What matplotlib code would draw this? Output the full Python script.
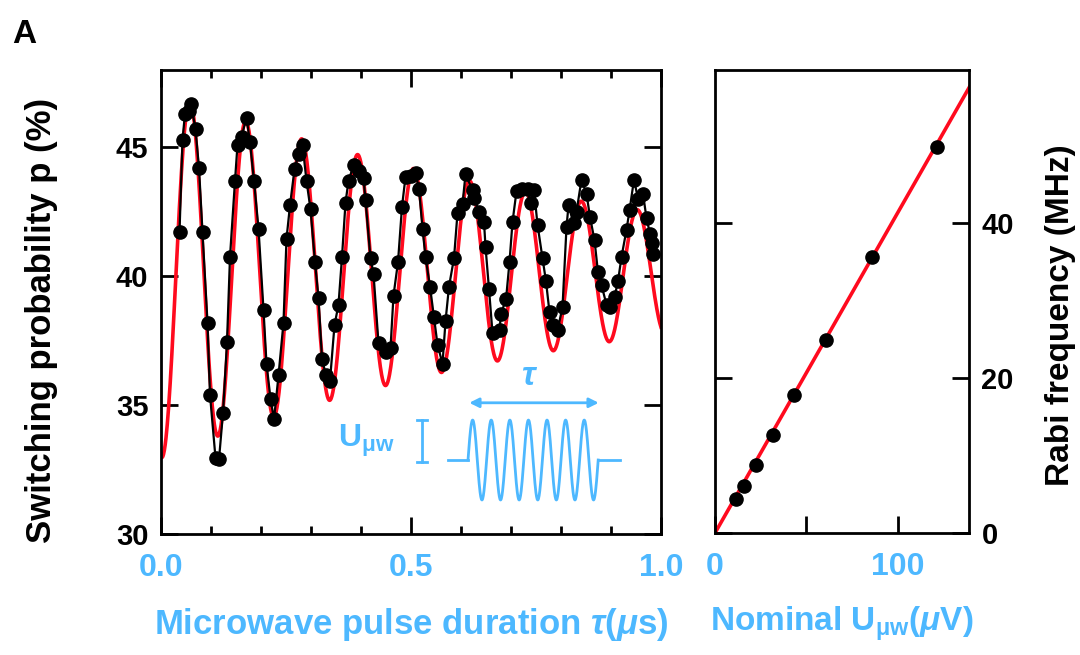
import numpy as np
import matplotlib.pyplot as plt

plt.rcParams['font.family'] = ['Liberation Sans', 'DejaVu Sans']
plt.rcParams['font.weight'] = 'bold'
plt.rcParams['axes.labelweight'] = 'bold'
plt.rcParams['mathtext.fontset'] = 'custom'
plt.rcParams['mathtext.rm'] = 'Liberation Sans:bold'
plt.rcParams['mathtext.it'] = 'Liberation Sans:bold:italic'
plt.rcParams['mathtext.bf'] = 'Liberation Sans:bold'

CYAN = "#4db8ff"
RED = "#ff0a1e"

# --- Rabi oscillations ---
tau_us = [0.037, 0.043, 0.048, 0.055, 0.060, 0.069, 0.076, 0.083,
          0.093, 0.098, 0.109, 0.116, 0.124, 0.132, 0.138,
          0.148, 0.153, 0.161, 0.171, 0.178, 0.186, 0.195,
          0.205, 0.211, 0.219, 0.226, 0.235, 0.245, 0.251, 0.258,
          0.267, 0.275, 0.283, 0.291, 0.299, 0.308, 0.315, 0.322,
          0.330, 0.338, 0.347, 0.355, 0.362, 0.369, 0.375, 0.385,
          0.395, 0.405, 0.409, 0.419, 0.425, 0.435, 0.449, 0.459,
          0.465, 0.474, 0.482, 0.489, 0.499, 0.509, 0.516, 0.523,
          0.529, 0.538, 0.546, 0.553, 0.563, 0.569, 0.576, 0.586,
          0.593, 0.603, 0.609, 0.623, 0.626, 0.636, 0.646, 0.649,
          0.656, 0.663, 0.677, 0.680, 0.690, 0.697, 0.703, 0.711,
          0.721, 0.733, 0.739, 0.746, 0.753, 0.763, 0.770, 0.777,
          0.783, 0.793, 0.803, 0.811, 0.815, 0.825, 0.831, 0.841,
          0.851, 0.858, 0.867, 0.874, 0.881, 0.891, 0.897, 0.907,
          0.914, 0.921, 0.931, 0.937, 0.946, 0.954, 0.964, 0.971,
          0.978, 0.981, 0.983]
p_pct = [41.7, 45.3, 46.3, 46.4, 46.7, 45.7, 44.2, 41.7,
         38.2, 35.4, 32.95, 32.9, 34.7, 37.45, 40.75,
         43.7, 45.1, 45.4, 46.15, 45.2, 43.7, 41.85,
         38.7, 36.6, 35.25, 34.45, 36.15, 38.2, 41.45, 42.75,
         44.15, 44.75, 45.1, 43.7, 42.6, 40.55, 39.15, 36.8,
         36.15, 35.95, 38.1, 38.9, 40.75, 42.85, 43.7, 44.3,
         44.1, 43.8, 42.95, 40.7, 40.1, 37.4, 37.05, 37.2,
         39.25, 40.55, 42.7, 43.85, 43.9, 44.0, 43.4, 41.85,
         40.75, 39.6, 38.4, 37.35, 36.6, 38.25, 39.6, 40.7,
         42.45, 42.8, 43.95, 43.35, 43.05, 42.5, 42.1, 41.15,
         39.5, 37.8, 37.9, 38.55, 39.1, 40.55, 42.1, 43.3,
         43.4, 43.4, 42.85, 43.35, 42.0, 40.7, 39.8, 38.6,
         38.1, 37.9, 38.8, 41.9, 42.75, 42.05, 42.5, 43.75,
         43.2, 42.3, 41.4, 40.15, 39.65, 38.9, 38.8, 39.2,
         39.8, 40.75, 41.8, 42.55, 43.75, 43.0, 43.2, 42.25,
         41.65, 41.3, 40.85]

# fit parameters of the red curve
FIT_P0 = 40.1       # %
FIT_AMP = 7.15      # %
FIT_T2 = 0.90       # us
FIT_FREQ = 8.94     # MHz
FIT_T0 = 0.002      # us

# --- Rabi frequency vs nominal amplitude ---
u_nominal = [11.3, 15.7, 22.2, 31.5, 43.4, 61.0, 86.0, 121.5]
f_rabi = [4.4, 6.1, 8.8, 12.6, 17.8, 24.9, 35.6, 49.8]
RABI_SLOPE = 0.413  # MHz / uV

fig = plt.figure(figsize=(10.8, 6.55), dpi=100)
ax1 = fig.add_axes([161 / 1080, 1 - 534 / 655, 500 / 1080, 464 / 655])
ax2 = fig.add_axes([715 / 1080, 1 - 533 / 655, 254 / 1080, 463 / 655])

# left panel
tt = np.linspace(0, 1.0, 1200)
fit = FIT_P0 - FIT_AMP * np.exp(-tt / FIT_T2) * np.cos(2 * np.pi * FIT_FREQ * (tt - FIT_T0))
ax1.plot(tt, fit, color=RED, lw=2.6, zorder=2)
ax1.plot(tau_us, p_pct, "-o", color="black", lw=1.6, ms=9.5, zorder=3)

ax1.set_xlim(0, 1.0)
ax1.set_ylim(30, 48)
ax1.set_xticks([0, 0.5, 1.0])
ax1.set_xticklabels(["0.0", "0.5", "1.0"])
ax1.set_xticks(np.arange(0.1, 1.0, 0.1), minor=True)
ax1.set_yticks([30, 35, 40, 45])
ax1.tick_params(axis="both", which="major", direction="in", length=12, width=2,
                top=True, right=True, labelsize=21, pad=9)
ax1.tick_params(axis="x", which="minor", direction="in", length=6, width=2,
                top=True, bottom=True)
ax1.tick_params(axis="x", labelcolor=CYAN, labelsize=23, pad=14)
ax1.set_xlabel(r"Microwave pulse duration $\tau$($\mu$s)", color=CYAN, fontsize=25)
ax1.xaxis.set_label_coords(0.5, -0.155)
ax1.set_ylabel("Switching probability p (%)", fontsize=25)
ax1.yaxis.set_label_coords(-0.205, 0.46)

# inset: pulse schematic
BASE_P = 32.87
PULSE_AMP = 1.55
PULSE_START, N_CYCLES, PULSE_PERIOD = 0.614, 7, 0.0372
ts = np.linspace(PULSE_START, PULSE_START + N_CYCLES * PULSE_PERIOD, 400)
pulse = BASE_P + PULSE_AMP * np.sin(2 * np.pi * (ts - PULSE_START) / PULSE_PERIOD)
ax1.plot([0.574, PULSE_START], [BASE_P, BASE_P], color=CYAN, lw=2)
ax1.plot(ts, pulse, color=CYAN, lw=2)
ax1.plot([ts[-1], 0.918], [BASE_P, BASE_P], color=CYAN, lw=2)
ax1.annotate("", xy=(0.611, 35.09), xytext=(0.881, 35.09),
             arrowprops=dict(arrowstyle="<|-|>", color=CYAN, lw=2, mutation_scale=14))
ax1.text(0.738, 35.5, r"$\tau$", color=CYAN, fontsize=24, ha="center", va="bottom")
ax1.plot([0.522, 0.522], [32.79, 34.42], color=CYAN, lw=2)
ax1.plot([0.512, 0.532], [34.42, 34.42], color=CYAN, lw=2)
ax1.plot([0.512, 0.532], [32.79, 32.79], color=CYAN, lw=2)
ax1.text(0.355, 33.6, r"U$_{\mathrm{\mu w}}$", color=CYAN, fontsize=23, ha="left", va="center")

# right panel
ax2.plot([0, 140], [0, 140 * RABI_SLOPE], color=RED, lw=2.6, zorder=2)
ax2.plot(u_nominal, f_rabi, "o", color="black", ms=9.5, zorder=3)
ax2.set_xlim(0, 139)
ax2.set_ylim(0, 59.7)
ax2.set_xticks([0, 50, 100])
ax2.set_xticklabels(["0", "", "100"])
ax2.set_yticks([0, 20, 40])
ax2.yaxis.tick_right()
ax2.yaxis.set_label_position("right")
ax2.tick_params(axis="both", which="major", direction="in", length=12, width=2,
                left=True, right=True, bottom=True, top=False, labelsize=21, pad=9)
ax2.tick_params(axis="x", labelcolor=CYAN, labelsize=23, pad=14)
ax2.set_xticks([50, 100], minor=True)
ax2.tick_params(axis="x", which="minor", direction="in", length=6, width=2,
                top=True, bottom=False)
ax2.set_xlabel(r"Nominal U$_{\mathrm{\mu w}}$($\mu$V)", color=CYAN, fontsize=24)
ax2.xaxis.set_label_coords(0.5, -0.155)
ax2.set_ylabel("Rabi frequency (MHz)", fontsize=24, rotation=90)
ax2.yaxis.set_label_coords(1.30, 0.47)

for ax in (ax1, ax2):
    for sp in ax.spines.values():
        sp.set_linewidth(2)

fig.text(0.011, 0.935, "A", fontsize=24, fontweight="bold")

fig.savefig("out.png", dpi=100)
